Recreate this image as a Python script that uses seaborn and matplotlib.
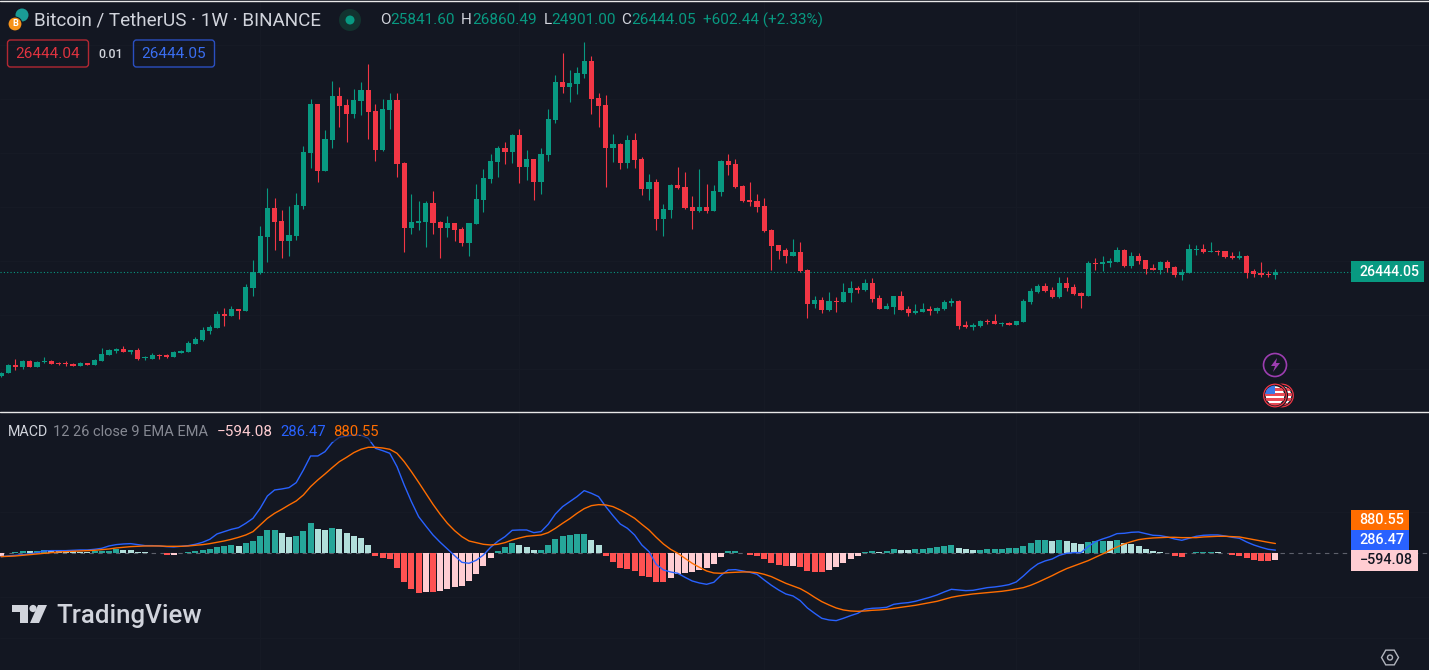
# BTCUSDT weekly chart with MACD pane, TradingView dark look

import numpy as np
import pandas as pd
import matplotlib
matplotlib.use("Agg")
import matplotlib.pyplot as plt
import matplotlib.patches as mpatches
import seaborn as sns

BG     = '#131722'
UP     = '#089981'
DOWN   = '#F23645'
TXT    = '#D1D4DC'
BLUE   = '#2962FF'
ORANGE = '#FF6D00'
H_UP, H_UP_LT, H_DN, H_DN_LT = '#26A69A', '#B2DFDB', '#FF5252', '#FFCDD2'

# prices in thousand USDT, no axis in the picture so estimated from last close
opens = [
    5.5, 6.2, 7.7, 7.3, 8.5, 7.4, 8.3, 8.5, 8.1, 8.1,
    7.9, 7.6, 8.1, 7.8, 8.6, 9.8, 10.5, 10.9, 10.4, 10.7,
    9.1, 9.0, 9.7, 9.7, 9.4, 10.2, 10.4, 11.9, 12.7, 14.5,
    15.2, 17.9, 17.5, 18.9, 18.5, 23.1, 26.1, 33.3, 39.1, 36.5,
    32.5, 33.5, 39.5, 50.1, 59.9, 46.5, 52.7, 61.5, 59.7, 57.9,
    60.5, 62.7, 58.5, 50.7, 58.7, 60.7, 48.1, 35.1, 36.1, 36.3,
    40.1, 36.3, 35.1, 36.1, 34.9, 32.1, 35.9, 40.7, 44.9, 48.3,
    51.1, 50.3, 53.7, 47.3, 48.9, 44.3, 49.7, 56.7, 64.3, 63.3,
    63.9, 65.9, 68.5, 61.1, 59.7, 51.1, 51.9, 48.1, 52.7, 48.9,
    42.9, 44.3, 36.9, 38.7, 43.7, 43.3, 39.3, 38.5, 39.3, 38.5,
    42.3, 48.5, 47.9, 43.5, 40.7, 40.5, 39.5, 34.7, 31.7, 30.7,
    29.5, 30.3, 26.7, 19.9, 20.7, 18.7, 20.5, 20.3, 22.1, 23.1,
    22.7, 24.1, 21.1, 18.9, 19.3, 21.5, 18.9, 18.1, 18.3, 18.9,
    18.5, 18.9, 20.1, 20.5, 15.7, 15.3, 15.5, 16.5, 16.5, 15.9,
    16.1, 15.7, 16.3, 20.3, 22.3, 23.5, 22.7, 21.3, 24.1, 23.3,
    22.1, 21.5, 28.1, 27.9, 28.1, 28.3, 30.7, 27.5, 29.5, 28.7,
    27.1, 26.7, 28.3, 27.3, 25.7, 26.1, 30.7, 30.9, 30.3, 30.6,
    30.5, 29.5, 29.1, 29.5, 26.5, 26.1, 25.9, 25.84,
]
highs = [
    6.4, 7.9, 8.9, 8.7, 8.7, 8.5, 9.3, 8.8, 8.4, 8.5,
    8.1, 8.3, 8.1, 8.9, 11.1, 10.9, 11.2, 11.5, 10.8, 11.1,
    9.5, 10.1, 9.9, 9.9, 10.6, 10.7, 12.5, 13.4, 15.3, 15.7,
    18.5, 19.1, 19.5, 18.9, 23.9, 28.7, 35.5, 43.1, 41.1, 38.7,
    39.5, 42.1, 51.5, 60.9, 59.9, 54.7, 64.5, 63.3, 60.9, 62.9,
    64.3, 67.9, 59.9, 60.9, 62.1, 62.1, 48.3, 41.9, 40.5, 40.5,
    42.5, 36.5, 37.5, 36.1, 35.3, 36.1, 43.9, 46.9, 49.9, 51.5,
    52.3, 53.9, 54.9, 50.7, 48.9, 51.1, 58.9, 65.7, 70.1, 66.7,
    67.3, 72.3, 69.5, 62.1, 61.7, 53.9, 52.1, 53.7, 54.1, 49.3,
    45.9, 44.9, 39.9, 43.9, 47.3, 46.3, 41.5, 46.9, 43.9, 43.7,
    48.7, 49.9, 48.9, 43.7, 44.3, 41.9, 41.1, 34.9, 31.7, 31.1,
    32.9, 32.3, 26.9, 21.5, 21.3, 22.3, 21.3, 24.1, 24.5, 23.5,
    24.9, 25.1, 21.7, 20.1, 21.5, 22.5, 19.5, 19.9, 20.1, 19.5,
    19.3, 20.7, 21.1, 20.7, 16.5, 16.1, 16.7, 16.9, 17.9, 16.3,
    16.3, 16.5, 20.9, 23.1, 23.9, 24.1, 23.3, 25.3, 25.3, 23.9,
    22.3, 28.5, 29.1, 29.5, 29.1, 31.3, 30.9, 30.3, 30.1, 28.7,
    27.9, 28.5, 28.7, 27.5, 26.9, 31.9, 31.7, 31.9, 32.3, 30.7,
    30.5, 30.3, 30.5, 29.7, 26.9, 28.3, 26.5, 26.86,
]
lows = [
    5.4, 6.1, 6.7, 7.0, 7.3, 7.3, 8.2, 7.9, 7.7, 7.6,
    7.5, 7.5, 7.8, 7.7, 8.5, 9.7, 10.2, 10.3, 9.9, 8.7,
    8.7, 8.9, 9.0, 9.1, 9.3, 10.1, 10.3, 11.9, 12.6, 14.0,
    15.1, 15.6, 17.5, 16.9, 18.5, 21.5, 25.9, 28.4, 30.7, 29.2,
    29.5, 32.7, 39.0, 47.1, 44.3, 46.5, 51.1, 55.3, 52.3, 57.1,
    57.7, 52.9, 48.5, 50.5, 54.9, 45.3, 30.3, 33.9, 34.7, 31.3,
    33.9, 29.1, 33.3, 32.5, 31.5, 29.5, 35.9, 38.3, 44.1, 45.3,
    47.9, 48.1, 44.1, 44.7, 40.7, 41.9, 48.5, 56.1, 62.1, 60.3,
    61.9, 65.1, 57.9, 55.3, 43.3, 48.3, 46.9, 47.1, 47.1, 41.7,
    40.7, 34.7, 33.5, 37.1, 42.9, 38.9, 34.9, 38.3, 38.1, 38.5,
    41.5, 45.7, 43.1, 40.3, 39.5, 38.3, 34.3, 26.7, 28.9, 28.1,
    29.5, 26.3, 17.1, 19.1, 18.1, 18.5, 18.3, 20.3, 20.3, 22.1,
    22.5, 20.3, 18.9, 18.9, 17.9, 18.7, 17.5, 17.9, 18.3, 17.7,
    18.1, 18.7, 19.5, 14.9, 15.1, 14.7, 15.3, 15.9, 15.9, 15.5,
    15.7, 15.7, 16.3, 19.9, 22.1, 22.3, 21.1, 21.1, 22.5, 21.7,
    19.1, 21.5, 26.7, 26.5, 27.3, 28.3, 27.3, 27.1, 27.9, 25.9,
    26.7, 25.9, 26.3, 25.3, 24.7, 26.1, 29.7, 30.1, 30.3, 29.7,
    29.1, 28.9, 28.9, 25.1, 25.3, 25.3, 25.3, 24.90,
]
closes = [
    6.2, 7.7, 7.4, 8.5, 7.4, 8.3, 8.6, 8.0, 7.9, 7.9,
    7.6, 8.1, 7.8, 8.7, 9.9, 10.7, 10.9, 10.4, 10.7, 8.9,
    9.2, 9.7, 9.5, 9.4, 10.3, 10.6, 12.1, 12.9, 14.7, 15.3,
    17.9, 17.5, 18.9, 18.5, 23.3, 26.4, 33.5, 39.1, 36.3, 32.5,
    33.7, 39.7, 50.3, 59.9, 46.5, 52.9, 61.5, 59.5, 57.9, 60.7,
    62.7, 58.3, 50.7, 58.9, 60.7, 47.9, 35.1, 36.3, 36.5, 40.1,
    36.1, 35.1, 36.1, 34.7, 32.1, 36.1, 40.9, 45.1, 48.5, 51.1,
    50.3, 53.7, 47.3, 48.9, 44.3, 49.9, 56.9, 64.3, 63.3, 64.1,
    66.1, 68.5, 60.9, 59.5, 51.1, 51.9, 48.1, 52.7, 48.7, 42.9,
    44.3, 36.9, 38.9, 43.7, 43.1, 39.1, 38.5, 39.3, 38.5, 42.5,
    48.5, 47.7, 43.3, 40.5, 40.3, 39.3, 34.5, 31.5, 30.5, 29.5,
    30.3, 26.5, 19.9, 20.7, 18.7, 20.5, 20.3, 22.3, 23.1, 22.7,
    24.1, 20.9, 18.9, 19.5, 21.5, 18.7, 18.1, 18.5, 18.9, 18.5,
    19.1, 20.3, 20.5, 15.5, 15.3, 15.7, 16.5, 16.3, 15.9, 16.1,
    15.7, 16.5, 20.5, 22.5, 23.5, 22.5, 21.3, 24.1, 23.1, 21.9,
    21.5, 28.1, 27.9, 28.3, 28.5, 30.7, 27.5, 29.5, 28.5, 26.9,
    26.7, 28.3, 27.1, 25.7, 26.4, 30.9, 30.9, 30.3, 30.5, 30.4,
    29.3, 29.1, 29.5, 26.1, 25.9, 25.7, 25.7, 26.444,
]

macd_hist = [
    -240, 60, 150, 210, 180, 210, 270, 240, 210, 180,
    165, 150, 120, 180, 210, 240, 360, 330, 300, 150,
    90, 60, 30, -150, -120, 30, 120, 210, 300, 420,
    570, 690, 750, 690, 900, 1140, 1590, 2100, 2130, 1800,
    1500, 1560, 2010, 2730, 2190, 2100, 2280, 2190, 1830, 1560,
    1350, 750, -240, -420, -510, -1320, -2580, -3210, -3540, -3480,
    -3510, -3360, -3210, -3060, -2940, -2490, -1860, -1140, -420, 210,
    570, 930, 750, 570, 300, 330, 750, 1290, 1560, 1650,
    1740, 1770, 1200, 750, -240, -780, -1320, -1410, -1590, -2040,
    -2130, -2580, -2595, -2220, -1860, -1770, -1680, -1500, -1320, -960,
    -330, 210, 240, 60, -120, -240, -510, -870, -1050, -1140,
    -1110, -1230, -1590, -1680, -1710, -1500, -1230, -870, -510, -240,
    120, 210, 120, 210, 390, 330, 300, 390, 420, 480,
    600, 690, 750, 480, 390, 300, 315, 390, 405, 420,
    435, 480, 660, 930, 1200, 1215, 1110, 1200, 1110, 930,
    840, 1020, 1110, 1140, 1110, 1155, 900, 840, 660, 390,
    180, 120, 60, -210, -330, 30, 120, 135, 150, 120,
    60, -150, -240, -420, -600, -660, -690, -594.08,
]
macd_line = [
    -300, -240, -180, -120, -60, 60, 210, 240, 240, 240,
    270, 300, 300, 360, 450, 660, 780, 840, 870, 780,
    690, 690, 660, 600, 570, 630, 690, 810, 990, 1260,
    1740, 1950, 2160, 2310, 2700, 3150, 4050, 5160, 5700, 5790,
    5910, 6360, 7500, 8760, 8760, 9150, 9960, 10440, 10560, 10650,
    10620, 10350, 9450, 9240, 9000, 7800, 6150, 4650, 3300, 2460,
    1650, 990, 390, -210, -810, -900, -630, -150, 540, 1080,
    1500, 2070, 2100, 2100, 1860, 1950, 2610, 3540, 4200, 4650,
    5100, 5640, 5400, 5100, 4200, 3390, 2640, 2250, 1650, 750,
    150, -990, -1500, -1680, -1800, -2160, -2490, -2670, -2790, -2610,
    -1980, -1500, -1470, -1590, -1710, -1890, -2400, -2880, -3300, -3660,
    -3840, -4260, -4920, -5400, -5850, -6000, -6060, -5850, -5610, -5400,
    -5040, -4950, -4920, -4860, -4590, -4500, -4440, -4320, -4140, -3960,
    -3750, -3480, -3240, -3300, -3360, -3330, -3210, -3090, -3030, -2940,
    -2820, -2580, -2040, -1440, -960, -690, -510, -180, 0, 60,
    60, 600, 1050, 1290, 1500, 1770, 1800, 1890, 1920, 1770,
    1620, 1590, 1470, 1290, 1170, 1350, 1530, 1620, 1650, 1650,
    1560, 1440, 1350, 1020, 750, 540, 360, 286.47,
]
signal_line = [
    -300, -270, -240, -180, -120, -60, 0, 60, 120, 150,
    180, 210, 240, 270, 330, 390, 480, 540, 600, 630,
    660, 660, 660, 630, 630, 630, 660, 720, 780, 870,
    990, 1110, 1260, 1440, 1650, 1950, 2550, 3150, 3600, 3960,
    4350, 4710, 5250, 6000, 6600, 7140, 7710, 8250, 8640, 9060,
    9360, 9540, 9540, 9480, 9360, 9000, 8250, 7350, 6390, 5400,
    4410, 3510, 2700, 2040, 1500, 1110, 960, 810, 750, 810,
    960, 1200, 1380, 1530, 1590, 1650, 1860, 2250, 2700, 3120,
    3600, 4020, 4290, 4380, 4350, 4200, 3900, 3540, 3150, 2610,
    2100, 1440, 840, 360, 0, -450, -900, -1260, -1590, -1770,
    -1800, -1740, -1710, -1680, -1680, -1740, -1890, -2100, -2400, -2700,
    -2940, -3180, -3540, -3960, -4350, -4650, -4920, -5100, -5190, -5220,
    -5190, -5130, -5100, -5040, -4950, -4860, -4770, -4680, -4560, -4440,
    -4320, -4140, -3960, -3840, -3750, -3660, -3600, -3540, -3480, -3420,
    -3330, -3210, -3090, -2880, -2610, -2310, -2010, -1680, -1380, -1140,
    -900, -660, -360, -60, 270, 570, 840, 1050, 1230, 1320,
    1380, 1410, 1440, 1440, 1410, 1410, 1410, 1470, 1500, 1530,
    1530, 1500, 1470, 1350, 1230, 1110, 990, 880.55,
]

price_grid = [6.9, 17.7, 28.5, 39.3, 50.1, 60.9, 71.7]
macd_grid  = [3700, -3960, -7620]
week_grid  = [36, 72, 106, 141, 158]

sns.set_theme(style='dark')
plt.rcParams['font.family'] = ['Roboto', 'DejaVu Sans']

W, H = 1429, 670
fig = plt.figure(figsize=(W / 100, H / 100), dpi=100, facecolor=BG)
ax  = fig.add_axes([0, (H - 411) / H, 1, 411 / H], facecolor=BG)
ax2 = fig.add_axes([0, 0, 1, (H - 412) / H], facecolor=BG)

weeks = np.arange(len(closes))
x_lim = (-1 / 7.2, (W - 1) / 7.2)

# candles
o, h, l, c = map(np.array, (opens, highs, lows, closes))
rising = c >= o
colors = np.where(rising, UP, DOWN)
ax.vlines(weeks, l, h, colors=colors, linewidth=0.8, zorder=3)
ax.bar(weeks, np.maximum(np.abs(c - o), 0.2), bottom=np.minimum(o, c),
       width=0.7, color=colors, linewidth=0, zorder=4)
ax.set_xlim(*x_lim)
ax.set_ylim(-1.456, 80.744)
ax.hlines(closes[-1], x_lim[0], (1351 - 1) / 7.2, colors=UP,
          linestyles=(0, (1, 2)), linewidth=0.8, zorder=2)

# macd pane
kinds = []
for i, val in enumerate(macd_hist):
    prev = macd_hist[i - 1] if i else -300
    if val >= 0:
        kinds.append('up' if val > prev else 'up_lt')
    else:
        kinds.append('dn' if val < prev else 'dn_lt')
df = pd.DataFrame({'week': weeks, 'hist': macd_hist, 'kind': kinds,
                   'macd': macd_line, 'signal': signal_line})
sns.barplot(data=df, x='week', y='hist', hue='kind', ax=ax2, native_scale=True,
            dodge=False, width=0.86, saturation=1, errorbar=None, legend=False,
            palette={'up': H_UP, 'up_lt': H_UP_LT, 'dn': H_DN, 'dn_lt': H_DN_LT},
            linewidth=0, zorder=3)
sns.lineplot(data=df, x='week', y='macd', ax=ax2, color=BLUE, linewidth=1.0,
             errorbar=None, zorder=4)
sns.lineplot(data=df, x='week', y='signal', ax=ax2, color=ORANGE, linewidth=1.0,
             errorbar=None, zorder=5)
ax2.set_xlim(*x_lim)
ax2.set_ylim(-(670 - 553.3) * 90, (553.3 - 412) * 90)
ax2.axhline(0, color='#5D606B', linestyle=(0, (4, 4)), linewidth=0.8, zorder=2)

for a, yt in ((ax, price_grid), (ax2, macd_grid)):
    a.set_xticks(week_grid)
    a.set_yticks(yt)
    a.set_xticklabels([])
    a.set_yticklabels([])
    a.set_xlabel('')
    a.set_ylabel('')
    a.tick_params(length=0)
    a.grid(True, color='#161A25', linewidth=0.8, zorder=0)
    a.set_axisbelow(True)
    for s in a.spines.values():
        s.set_visible(False)

# overlay in screen pixels: header, price tags, icons
ov = fig.add_axes([0, 0, 1, 1], facecolor='none', zorder=10)
ov.set_xlim(0, W)
ov.set_ylim(H, 0)
ov.axis('off')


def label(x, y, s, color=TXT, size=11.5, ha='left', weight='normal'):
    ov.text(x, y, s, color=color, fontsize=size, ha=ha, va='center',
            fontweight=weight, zorder=20)


def tag(x0, x1, y0, y1, s, fc, tc='white', size=10.4):
    ov.add_patch(mpatches.Rectangle((x0, y0), x1 - x0, y1 - y0, fc=fc, ec='none', zorder=15))
    label((x0 + x1) / 2 + 2, (y0 + y1) / 2, s, color=tc, size=size, ha='center', weight='medium')


# frame and pane separator
ov.plot([0, W], [0.5, 0.5], color='#E8E8E8', lw=1)
ov.plot([0, W], [411.5, 411.5], color='#E8E8E8', lw=1)

# symbol header
ov.add_patch(mpatches.Circle((22, 15), 6.5, fc='#1A9C96', ec='none'))
ov.add_patch(mpatches.Circle((15, 24), 7, fc='#F7931A', ec=BG, lw=0.8))
label(15, 24, 'B', color='white', size=6.5, ha='center', weight='bold')
label(34, 20.5, 'Bitcoin / TetherUS · 1W · BINANCE', size=13.6)
ov.add_patch(mpatches.Circle((350, 20), 11, fc='#12332F', ec='none'))
ov.add_patch(mpatches.Circle((350, 20), 4.5, fc=UP, ec='none'))
for x, off, key, val in [(380, 10.5, 'O', '25841.60'), (461, 11, 'H', '26860.49'),
                         (544, 7.5, 'L', '24901.00'), (621, 10, 'C', '26444.05')]:
    label(x, 20.5, key, size=11)
    label(x + off, 20.5, val, color=UP, size=11)
label(703, 20.5, '+602.44 (+2.33%)', color=UP, size=11)

# sell / buy boxes
for x0, x1, col, txt in [(7.5, 88.5, '#B22833', '26444.04'), (133.5, 214.5, '#2A4FC0', '26444.05')]:
    ov.add_patch(mpatches.FancyBboxPatch((x0 + 2, 42), x1 - x0 - 4, 23, fc='none', ec=col, lw=1,
                                         boxstyle='round,pad=2,rounding_size=3'))
    label((x0 + x1) / 2, 54.5, txt, color='#E03340' if col == '#B22833' else '#3A6EF0', size=11, ha='center')
label(111, 54, '0.01', size=9, ha='center', weight='medium')

tag(1351, 1424, 261, 282, '26444.05', UP, size=10.2)

# event icons
ov.add_patch(mpatches.Circle((1275, 365), 11.5, fc=BG, ec='#9C3DB0', lw=1.2))
ov.add_patch(mpatches.Polygon([(1277, 358), (1271, 366), (1275, 366), (1273, 372),
                               (1280, 363), (1276, 363)], fc='#9C3DB0', ec='none'))
for n, cx in enumerate((1282, 1275)):
    z = 5 + 5 * n
    ov.add_patch(mpatches.Circle((cx, 395.5), 12.5, fc='#F23645', ec=BG, lw=0.8, zorder=z))
    disc = mpatches.Circle((cx, 395.5), 10, fc='white', ec=BG, lw=1, zorder=z + 1)
    ov.add_patch(disc)
    for sy in (388, 393, 398, 403):
        st = ov.add_patch(mpatches.Rectangle((cx - 11, sy), 22, 2.5, fc='#E84A55', ec='none', zorder=z + 2))
        st.set_clip_path(disc)
    cant = ov.add_patch(mpatches.Rectangle((cx - 11, 385), 11, 9, fc='#3B78E7', ec='none', zorder=z + 3))
    cant.set_clip_path(disc)

# macd header, dims the lines running behind it
ov.add_patch(mpatches.Rectangle((0, 421), 385, 21, fc=BG, ec='none', alpha=0.55, zorder=3))
label(8, 431.5, 'MACD', size=10.3)
label(53, 431.5, '12 26 close 9 EMA EMA', color='#868993', size=10.55)
label(217, 431.5, '−594.08', color=H_DN_LT, size=11)
label(280, 431.5, '286.47', color=BLUE, size=10.7)
label(333, 431.5, '880.55', color=ORANGE, size=10.7)

tag(1351, 1409, 510, 530, '880.55', ORANGE)
tag(1351, 1409, 530, 550, '286.47', BLUE)
tag(1351, 1418, 550, 571, '−594.08', H_DN_LT, tc='#131722')

# watermark logo
logo = '#D1D4DC'
ov.add_patch(mpatches.Polygon([(12, 605), (28, 605), (28, 623), (20, 623), (20, 612), (12, 612)], fc=logo, ec='none'))
ov.add_patch(mpatches.Circle((33, 608.5), 3.6, fc=logo, ec='none'))
ov.add_patch(mpatches.Polygon([(38, 605), (47, 605), (39, 623), (30, 623)], fc=logo, ec='none'))
label(56, 615.5, 'TradingView', color=logo, size=18.6, weight='medium')

# settings hexagon
ang = np.deg2rad(np.arange(0, 360, 60))
ov.add_patch(mpatches.Polygon(np.c_[1390 + 8.5 * np.cos(ang), 657.5 + 8.5 * np.sin(ang)],
                              fc='none', ec='#B2B5BE', lw=1))
ov.add_patch(mpatches.Circle((1390, 657.5), 2.5, fc='none', ec='#B2B5BE', lw=1))

fig.savefig('out.png', dpi=100, facecolor=BG)
